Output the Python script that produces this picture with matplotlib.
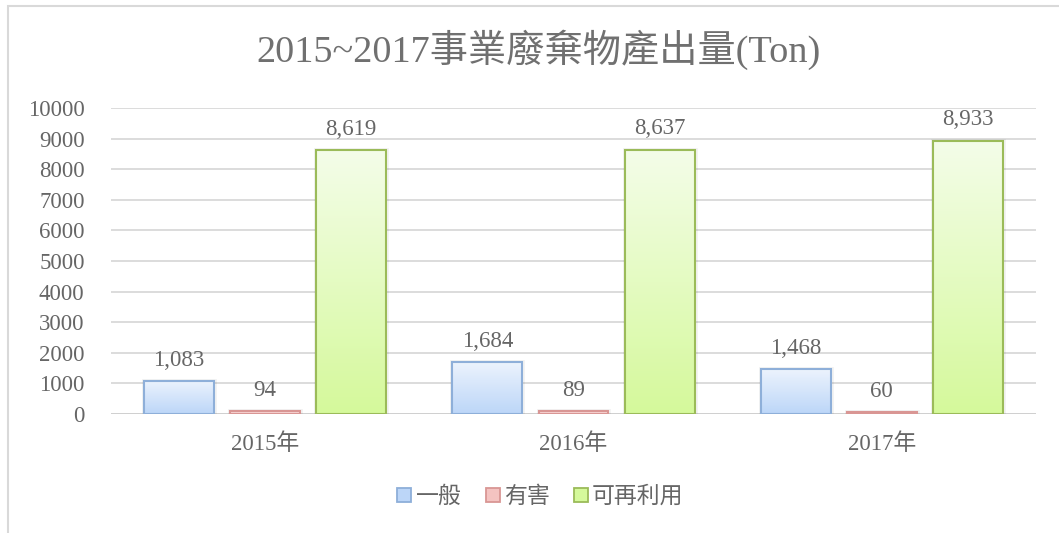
import matplotlib
matplotlib.use("Agg")
import matplotlib.pyplot as plt
import numpy as np
from matplotlib.patches import Rectangle
from matplotlib.lines import Line2D
from matplotlib.colors import LinearSegmentedColormap

plt.rcParams['font.family'] = ['Liberation Serif', 'Noto Sans CJK TC']

# ---- data ----
categories = ['2015年', '2016年', '2017年']
series_names = ['一般', '有害', '可再利用']
general = [1083, 1684, 1468]
hazardous = [94, 89, 60]
reusable = [8619, 8637, 8933]
yticks = [0, 1000, 2000, 3000, 4000, 5000, 6000, 7000, 8000, 9000, 10000]
title = '2015~2017事業廢棄物產出量(Ton)'

# ---- styles ----
grad_top = ['#ecf3fd', '#fbe4e3', '#f4fde9']
grad_bot = ['#bcd6f8', '#f4c3c1', '#d5f99b']
edges = ['#8eafd9', '#d99694', '#9bbb59']
txt = '#666666'

fig = plt.figure(figsize=(10.59, 5.33), dpi=100)
ax = fig.add_axes([111/1059, 1-414/533, 925/1059, (414-108)/533])

series = [general, hazardous, reusable]
x = np.arange(len(categories))
w = 0.227
offs = [-0.279, 0, 0.279]
for i, vals in enumerate(series):
    bars = ax.bar(x + offs[i], vals, width=w, facecolor='none',
                  edgecolor=edges[i], linewidth=1.5, zorder=4)
    cmap = LinearSegmentedColormap.from_list('g%d' % i, [grad_bot[i], grad_top[i]])
    grad = np.linspace(0, 1, 256).reshape(-1, 1)
    for b, v in zip(bars, vals):
        x0, y0 = b.get_x(), b.get_y()
        bw, bh = b.get_width(), b.get_height()
        # soft shadow
        sh = Rectangle((x0, y0), bw, bh, transform=ax.transData,
                       facecolor='none', edgecolor='#000000', alpha=0.05,
                       linewidth=3.5, zorder=2)
        ax.add_patch(sh)
        im = ax.imshow(grad, extent=[x0, x0 + bw, y0, y0 + bh],
                       origin='lower', cmap=cmap, aspect='auto', zorder=3)
        im.set_clip_path(b)
        ax.annotate(f'{v:,}', (b.get_x() + bw/2, v), xytext=(0, 11),
                    textcoords='offset points', ha='center', va='baseline',
                    fontsize=16.5, color=txt, zorder=5)

ax.set_xlim(-0.5, 2.5)
ax.set_ylim(0, 10000)
ax.set_yticks(yticks)
ax.set_yticklabels([str(t) for t in yticks])
ax.set_xticks(x)
ax.set_xticklabels(categories)
ax.tick_params(axis='y', length=0, pad=19, labelsize=16.5, labelcolor=txt)
ax.tick_params(axis='x', length=0, pad=14, labelsize=16.5, labelcolor=txt)
for s in ax.spines.values():
    s.set_visible(False)
ax.grid(axis='y', color='#d9d9d9', linewidth=1.3, zorder=0)
ax.set_axisbelow(True)
ax.axhline(0, color='#d0d0d0', linewidth=1.4, zorder=1)

fig.text(538/1059, 1-50/533, title, ha='center', va='center',
         fontsize=27.5, color='#707070')

handles = [Line2D([], [], linestyle='none', marker='s', markersize=9.5,
                  markerfacecolor=grad_bot[i], markeredgecolor=edges[i],
                  markeredgewidth=1.3) for i in range(3)]
leg = fig.legend(handles, series_names, loc='center', bbox_to_anchor=(540/1059, 1-497/533),
                 ncol=3, frameon=False, fontsize=16.5, handlelength=0.7,
                 handletextpad=0.15, columnspacing=1.0, labelcolor=txt)

border = Rectangle((7.5/1059, -0.1), 1.2, 1 - 6.5/533 + 0.1, transform=fig.transFigure,
                   facecolor='none', edgecolor='#d9d9d9', linewidth=1.5)
fig.add_artist(border)

fig.savefig('out.png', dpi=100)
